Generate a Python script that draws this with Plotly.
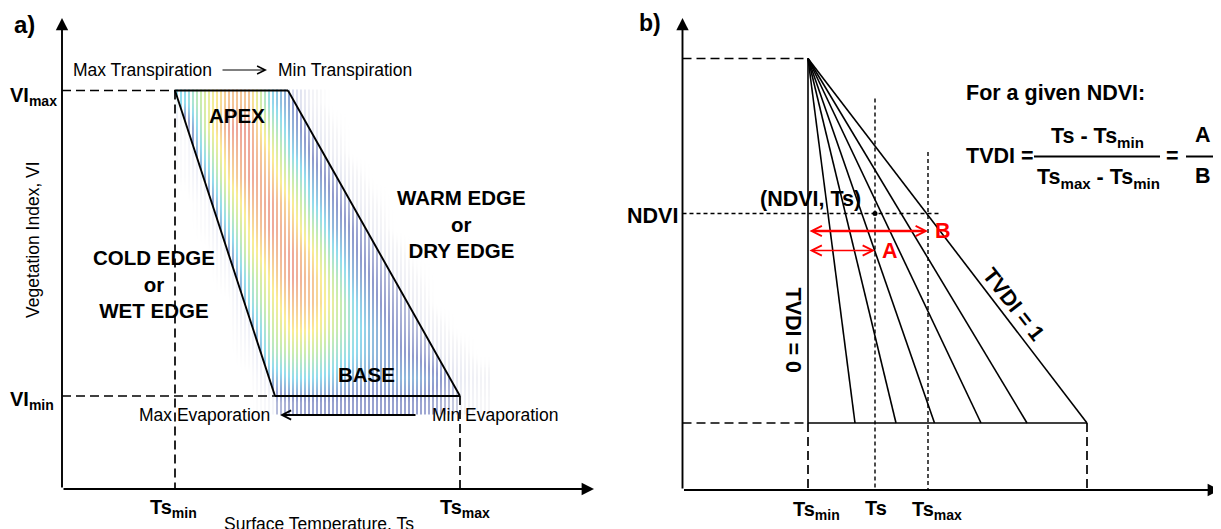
import numpy as np
import plotly.graph_objects as go

FONT = "Liberation Sans"
W, H = 1221, 529
PAGE_MARGIN = 8   # default body margin of the html page

# ---------------- Panel a) : VI / Ts triangle (diagram units = canvas px) ----------
A_ORIGIN = (62, 489)          # axis origin
A_AXIS_TIPS = (594, 18)       # x-axis tip x, y-axis tip y
A_TS = {"min": 175, "max": 460}
A_VI = {"max": 90.5, "min": 396}
A_TRAP_X = [175, 288, 460, 275, 175]
A_TRAP_Y = [90.5, 90.5, 396, 396, 90.5]

# density of the Ts/VI point cloud (0 = empty, 5 = densest)
CLOUD_X = [185.5, 206.5, 227.5, 248.5, 269.5, 290.5, 311.5, 332.5,
           353.5, 374.5, 395.5, 416.5, 437.5, 458.5, 479.5]
CLOUD_Y = [102, 127, 152, 177, 202, 227, 252, 277, 302, 327, 352, 377, 402]
CLOUD_Z = [
    [2.0, 3.5, 4.5, 4.5, 2.0, 1.2, 0.3, 0, 0, 0, 0, 0, 0, 0, 0],
    [0.4, 3.5, 5.0, 5.0, 3.0, 1.5, 0.6, 0.2, 0, 0, 0, 0, 0, 0, 0],
    [0.3, 2.5, 4.5, 5.0, 4.0, 2.0, 1.0, 0.4, 0, 0, 0, 0, 0, 0, 0],
    [0.2, 1.5, 4.0, 5.0, 4.5, 3.0, 1.5, 0.8, 0.3, 0, 0, 0, 0, 0, 0],
    [0, 0.5, 3.0, 4.5, 5.0, 4.0, 2.0, 1.2, 0.5, 0.2, 0, 0, 0, 0, 0],
    [0, 0.3, 2.0, 4.0, 5.0, 4.5, 3.0, 1.5, 1.0, 0.4, 0, 0, 0, 0, 0],
    [0, 0, 1.0, 3.5, 4.5, 5.0, 4.0, 2.2, 1.2, 0.7, 0.3, 0, 0, 0, 0],
    [0, 0, 0.4, 2.5, 4.0, 5.0, 4.5, 3.0, 1.5, 1.0, 0.5, 0.2, 0, 0, 0],
    [0, 0, 0, 2.0, 3.5, 4.5, 4.5, 3.5, 2.0, 1.2, 0.8, 0.4, 0, 0, 0],
    [0, 0, 0, 1.0, 3.0, 4.0, 4.0, 3.2, 2.2, 1.5, 1.0, 0.6, 0.3, 0, 0],
    [0, 0, 0, 0.4, 2.5, 3.0, 3.0, 2.5, 2.0, 1.5, 1.2, 1.0, 0.5, 0.3, 0],
    [0, 0, 0, 0, 1.5, 2.0, 2.0, 1.8, 1.5, 1.3, 1.5, 1.5, 1.2, 0.6, 0.3],
    [0, 0, 0, 0, 0.6, 0.9, 1.0, 1.0, 1.0, 1.0, 1.0, 1.0, 0.8, 0.4, 0.2],
]
STRIPE_PERIOD = 4

A_TRANSP_ARROW = (221, 267, 70)   # tail x, head x, y
A_EVAP_ARROW = (417, 280, 415)

# ---------------- Panel b) : TVDI fan ----------------
B_ORIGIN = (682.5, 490)
B_AXIS_TIPS = (1220, 18)
B_APEX = (808, 58.5)
B_BASE_Y = 423
B_FAN_X = [808, 855, 896, 934.5, 981, 1027, 1087]
B_TS = {"min": 808, "ts": 875, "max": 928}
B_TS_TOP = {"ts": 98.6, "max": 152}
B_NDVI_Y = 213.5
B_NDVI_END = 941
B_ARROW_B = (808, 928, 231)
B_ARROW_A = (808, 875, 250.5)

fig = go.Figure()

# point cloud
cs = [[0.0, "rgba(255,255,255,0)"], [0.04, "rgb(215,215,222)"], [0.12, "rgb(150,158,200)"],
      [0.22, "rgb(75,92,175)"], [0.4, "rgb(80,200,228)"], [0.6, "rgb(170,225,125)"],
      [0.78, "rgb(248,226,85)"], [1.0, "rgb(228,112,92)"]]
fig.add_trace(go.Heatmap(x=CLOUD_X, y=CLOUD_Y, z=CLOUD_Z, zmin=0, zmax=5, zsmooth="best",
                         colorscale=cs, showscale=False, hoverinfo="skip", opacity=0.62))
sx, sy = [], []
for xv in np.arange(CLOUD_X[0] - 10.5, CLOUD_X[-1] + 10.5, STRIPE_PERIOD):
    sx += [xv, xv, None]
    sy += [CLOUD_Y[0] - 14, CLOUD_Y[-1] + 14, None]
fig.add_trace(go.Scatter(x=sx, y=sy, mode="lines", line=dict(color="white", width=2),
                         hoverinfo="skip", showlegend=False))

shapes = []

# soften the cloud outside the two edges (sparse points only)
xl0 = CLOUD_X[0] - 12
xr1 = CLOUD_X[-1] + 12
yt0 = CLOUD_Y[0] - 14
yb1 = CLOUD_Y[-1] + 14
left_mask = (f"M{xl0},{yt0} L{A_TRAP_X[0]},{yt0} L{A_TRAP_X[0]},{A_TRAP_Y[0]} "
             f"L{A_TRAP_X[3]},{A_TRAP_Y[3]} L{A_TRAP_X[3]},{yb1} L{xl0},{yb1} Z")
right_mask = (f"M{A_TRAP_X[1]},{yt0} L{A_TRAP_X[1]},{A_TRAP_Y[1]} L{A_TRAP_X[2]},{A_TRAP_Y[2]} "
              f"L{A_TRAP_X[2]},{yb1} L{xr1},{yb1} L{xr1},{yt0} Z")
shapes.append(dict(type="path", path=left_mask, xref="x", yref="y", fillcolor="white",
                   opacity=0.85, line=dict(width=0), layer="above"))
shapes.append(dict(type="path", path=right_mask, xref="x", yref="y", fillcolor="white",
                   opacity=0.65, line=dict(width=0), layer="above"))


def seg(x0, y0, x1, y1, width=1.6, dash=None, color="black"):
    ln = dict(color=color, width=width)
    if dash:
        ln["dash"] = dash
    shapes.append(dict(type="line", xref="x", yref="y", x0=x0, y0=y0, x1=x1, y1=y1,
                       line=ln, layer="above"))


LD = "9px,5px"
SD = "4px,3px"
# panel a dashed guides
seg(A_ORIGIN[0], A_VI["max"], A_TS["min"], A_VI["max"], dash=LD, width=1.7)
seg(A_ORIGIN[0], A_VI["min"], A_TRAP_X[3], A_VI["min"], dash=LD, width=1.7)
seg(A_TS["min"], A_VI["max"], A_TS["min"], A_ORIGIN[1], dash=LD, width=1.7)
seg(A_TS["max"], A_VI["min"], A_TS["max"], A_ORIGIN[1], dash=LD, width=1.7)
# trapezoid
for i in range(4):
    seg(A_TRAP_X[i], A_TRAP_Y[i], A_TRAP_X[i + 1], A_TRAP_Y[i + 1], width=1.9)

# panel b
seg(B_ORIGIN[0], B_APEX[1], B_APEX[0], B_APEX[1], dash=LD, width=1.7)
seg(B_ORIGIN[0], B_BASE_Y, B_APEX[0], B_BASE_Y, dash=LD, width=1.7)
seg(B_TS["min"], B_BASE_Y, B_TS["min"], B_ORIGIN[1], dash=LD, width=1.7)
seg(B_FAN_X[-1], B_BASE_Y, B_FAN_X[-1], B_ORIGIN[1], dash=LD, width=1.7)
seg(B_ORIGIN[0], B_NDVI_Y, B_NDVI_END, B_NDVI_Y, dash=SD, width=1.4)
seg(B_TS["ts"], B_TS_TOP["ts"], B_TS["ts"], B_ORIGIN[1], dash=SD, width=1.4)
seg(B_TS["max"], B_TS_TOP["max"], B_TS["max"], B_ORIGIN[1], dash=SD, width=1.4)
seg(B_FAN_X[0], B_BASE_Y, B_FAN_X[-1], B_BASE_Y, width=1.7)
for fx in B_FAN_X:
    seg(B_APEX[0], B_APEX[1], fx, B_BASE_Y, width=1.6)

# TVDI fraction bars
FRAC_BARS = [(1034, 1160), (1186, 1219)]
FRAC_Y = 156.5
for x0, x1 in FRAC_BARS:
    seg(x0, FRAC_Y, x1, FRAC_Y, width=2)

# point (NDVI, Ts)
fig.add_trace(go.Scatter(x=[B_TS["ts"]], y=[B_NDVI_Y], mode="markers",
                         marker=dict(color="black", size=5), hoverinfo="skip", showlegend=False))

ann = []


def arrow(x_head, y_head, x_tail, y_tail, head=2, width=1.8, size=1.0, color="black", side="end"):
    ann.append(dict(x=x_head, y=y_head, ax=x_tail, ay=y_tail, xref="x", yref="y",
                    axref="x", ayref="y", text="", showarrow=True, arrowhead=head,
                    arrowwidth=width, arrowsize=size, arrowcolor=color, arrowside=side,
                    standoff=0, startstandoff=0))


def txt(x, y, s, size=16, color="black", xanchor="center", yanchor="middle", angle=0):
    ann.append(dict(x=x, y=y, xref="x", yref="y", text=s, showarrow=False,
                    font=dict(family=FONT, size=size, color=color),
                    xanchor=xanchor, yanchor=yanchor, textangle=angle))


# axes with arrows
arrow(A_ORIGIN[0], A_AXIS_TIPS[1], A_ORIGIN[0], A_ORIGIN[1], head=2, width=1.9, size=1.3)
arrow(A_AXIS_TIPS[0], A_ORIGIN[1], A_ORIGIN[0], A_ORIGIN[1], head=2, width=1.9, size=1.3)
arrow(B_ORIGIN[0], B_AXIS_TIPS[1], B_ORIGIN[0], B_ORIGIN[1], head=2, width=1.9, size=1.3)
arrow(B_AXIS_TIPS[0], B_ORIGIN[1], B_ORIGIN[0], B_ORIGIN[1], head=2, width=1.9, size=1.3)

arrow(A_TRANSP_ARROW[1], A_TRANSP_ARROW[2], A_TRANSP_ARROW[0], A_TRANSP_ARROW[2], head=5, width=1, size=1.6)
arrow(A_EVAP_ARROW[1], A_EVAP_ARROW[2], A_EVAP_ARROW[0], A_EVAP_ARROW[2], head=5, width=2, size=0.9)
arrow(B_ARROW_B[1], B_ARROW_B[2], B_ARROW_B[0], B_ARROW_B[2], head=5, width=2.5, size=0.8,
      color="#ff0000", side="end+start")
arrow(B_ARROW_A[1], B_ARROW_A[2], B_ARROW_A[0], B_ARROW_A[2], head=5, width=1.5, size=1.33,
      color="#ff0000", side="end+start")

BOLD_A = 20.5
BOLD_B = 21.5
REG = 17.5
# panel a text
txt(24, 24, "<b>a)</b>", size=24)
txt(8, 96, "<b>VI<sub>max</sub></b>", size=20, xanchor="left")
txt(8, 400, "<b>VI<sub>min</sub></b>", size=20, xanchor="left")
txt(A_TS["min"] - 2, 508, "<b>Ts<sub>min</sub></b>", size=20)
txt(A_TS["max"] + 5, 508, "<b>Ts<sub>max</sub></b>", size=20)
txt(319, 524, "Surface Temperature, Ts", size=REG)
txt(33, 240, "Vegetation Index, VI", size=REG, angle=-90)
txt(214, 70, "Max Transpiration", size=REG, xanchor="right")
txt(276, 70, "Min Transpiration", size=REG, xanchor="left")
txt(272, 415, "Max Evaporation", size=REG, xanchor="right")
txt(430, 415, "Min Evaporation", size=REG, xanchor="left")
txt(237, 115, "<b>APEX</b>", size=BOLD_A)
txt(366, 374, "<b>BASE</b>", size=BOLD_A)
txt(461, 224, "<b>WARM EDGE</b><br><b>or</b><br><b>DRY EDGE</b>", size=BOLD_A)
txt(154, 284, "<b>COLD EDGE</b><br><b>or</b><br><b>WET EDGE</b>", size=BOLD_A)

# panel b text
txt(650, 23, "<b>b)</b>", size=23)
txt(652, 216, "<b>NDVI</b>", size=BOLD_B)
txt(810, 199, "<b>(NDVI, Ts)</b>", size=BOLD_B)
txt(943, 231, "<b>B</b>", size=BOLD_B, color="#ff0000")
txt(890, 251, "<b>A</b>", size=BOLD_B, color="#ff0000")
txt(792.5, 330, "<b>TVDI = 0</b>", size=BOLD_B, angle=90)
txt(1013, 304, "<b>TVDI = 1</b>", size=BOLD_B, angle=52)
txt(B_TS["min"] + 8, 510, "<b>Ts<sub>min</sub></b>", size=20)
txt(B_TS["ts"] + 1, 508, "<b>Ts</b>", size=20)
txt(B_TS["max"] + 9, 510, "<b>Ts<sub>max</sub></b>", size=20)
txt(964, 93, "<b>For a given NDVI:</b>", size=BOLD_B, xanchor="left")
txt(964, 156, "<b>TVDI =</b>", size=BOLD_B, xanchor="left")
txt(1097, 137, "<b>Ts - Ts<sub>min</sub></b>", size=BOLD_B)
txt(1098, 178, "<b>Ts<sub>max</sub> - Ts<sub>min</sub></b>", size=BOLD_B)
txt(1172, 156, "<b>=</b>", size=BOLD_B)
txt(1203, 135, "<b>A</b>", size=BOLD_B)
txt(1203, 176, "<b>B</b>", size=BOLD_B)

fig.update_layout(
    width=W - PAGE_MARGIN, height=H - PAGE_MARGIN, margin=dict(l=0, r=0, t=0, b=0),
    paper_bgcolor="white", plot_bgcolor="white", showlegend=False,
    xaxis=dict(range=[PAGE_MARGIN, W], visible=False, fixedrange=True),
    yaxis=dict(range=[H, PAGE_MARGIN], visible=False, fixedrange=True),
    shapes=shapes, annotations=ann,
)
fig.write_html("out.html")
